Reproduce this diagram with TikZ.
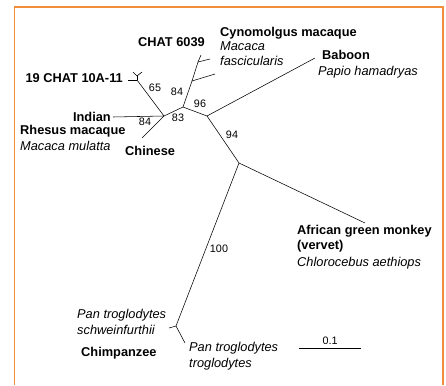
\documentclass[tikz,border=0pt]{standalone}
\usepackage{fontspec}
\setmainfont{Liberation Sans}
\definecolor{marco}{RGB}{242,142,58}

\tikzstyle{rama}= [black,line width=0.55pt]
\tikzstyle{especie}= [inner sep=0pt,anchor=west,font=\fontsize{12.8}{15}\selectfont\bfseries]
\tikzstyle{latin}= [inner sep=0pt,anchor=west,font=\fontsize{12.8}{15}\selectfont\itshape]
\tikzstyle{apoyo}= [inner sep=0pt,font=\fontsize{10.8}{12}\selectfont]

\begin{document}
\begin{tikzpicture}[x=1pt,y=-1pt]
		\useasboundingbox (0,0) rectangle (446,385);
		\draw[marco,line width=1.5pt] (14.5,385) -- (14.5,7) -- (443,7) -- (443,385);

		\coordinate (n83) at (164,116);
		\coordinate (n96) at (183,107);
		\coordinate (n94) at (207,116);
		\coordinate (n100) at (239,163);
		\coordinate (n84) at (192,81);
		\coordinate (cyn) at (198,62);
		\coordinate (cyn/a) at (201,55);
		\coordinate (cyn/b) at (210,59);
		\coordinate (side) at (215,74);
		\coordinate (ch19) at (137,80);
		\coordinate (ch19/k) at (137,76);
		\coordinate (ch19/a) at (128,80);
		\coordinate (ch19/b) at (133,72);
		\coordinate (ch19/c) at (142,72);
		\coordinate (ind) at (113,117);
		\coordinate (chi) at (142,138);
		\coordinate (bab) at (315,58);
		\coordinate (agm) at (365,223);
		\coordinate (chimp) at (176,326);
		\coordinate (sch) at (169,328);
		\coordinate (tro) at (185,343);
		\coordinate (bar/a) at (299,348);
		\coordinate (bar/b) at (361,348);

		\path[rama] (n83) edge[] node {} (n96);
		\path[rama] (n96) edge[] node {} (n94);
		\path[rama] (n94) edge[] node {} (n100);
		\path[rama] (n94) edge[] node {} (bab);
		\path[rama] (n100) edge[] node {} (agm);
		\path[rama] (n100) edge[] node {} (chimp);
		\path[rama] (chimp) edge[] node {} (sch);
		\path[rama] (chimp) edge[] node {} (tro);
		\path[rama] (n96) edge[] node {} (n84);
		\path[rama] (n84) edge[] node {} (cyn);
		\path[rama] (n84) edge[] node {} (side);
		\path[rama] (cyn) edge[] node {} (cyn/a);
		\path[rama] (cyn) edge[] node {} (cyn/b);
		\path[rama] (n83) edge[] node {} (ind);
		\path[rama] (n83) edge[] node {} (chi);
		\path[rama] (n83) edge[] node {} (ch19);
		\path[rama] (ch19) edge[] node {} (ch19/a);
		\path[rama] (ch19) edge[] node {} (ch19/k);
		\path[rama] (ch19/k) edge[] node {} (ch19/b);
		\path[rama] (ch19/k) edge[] node {} (ch19/c);
		\path[black,line width=1pt] (bar/a) edge[] node {} (bar/b);

		\node (s65) at (155,88) [apoyo] {65};
		\node (s84a) at (177,92) [apoyo] {84};
		\node (s96) at (200,104) [apoyo] {96};
		\node (s83) at (178,118) [apoyo] {83};
		\node (s84b) at (145,122) [apoyo] {84};
		\node (s94) at (232,135) [apoyo] {94};
		\node (s100) at (219,249) [apoyo] {100};
		\node (escala) at (330,341) [apoyo] {0.1};

		\node (t6039) at (138,42) [especie] {CHAT 6039};
		\node (tcyn) at (220,33) [especie] {Cynomolgus macaque};
		\node (tcyn/1) at (220,46) [latin] {Macaca};
		\node (tcyn/2) at (220,61) [latin] {fascicularis};
		\node (tbab) at (322,55) [especie] {Baboon};
		\node (tbab/1) at (318,72) [latin] {Papio hamadryas};
		\node (t19) at (123,78) [especie,anchor=east] {19 CHAT 10A-11};
		\node (tind) at (111,117) [especie,anchor=east] {Indian};
		\node (trhe) at (20,131) [especie] {Rhesus macaque};
		\node (trhe/1) at (20,146) [latin] {Macaca mulatta};
		\node (tchi) at (125,151) [especie] {Chinese};
		\node (tagm) at (297,231) [especie] {African green monkey};
		\node (tagm/1) at (297,246) [especie] {(vervet)};
		\node (tagm/2) at (297,263) [latin] {Chlorocebus aethiops};
		\node (tsch) at (77,315) [latin] {Pan troglodytes};
		\node (tsch/1) at (77,330) [latin] {schweinfurthii};
		\node (tchimp) at (81,353) [especie] {Chimpanzee};
		\node (ttro) at (189,348) [latin] {Pan troglodytes};
		\node (ttro/1) at (189,364) [latin] {troglodytes};
\end{tikzpicture}
\end{document}
